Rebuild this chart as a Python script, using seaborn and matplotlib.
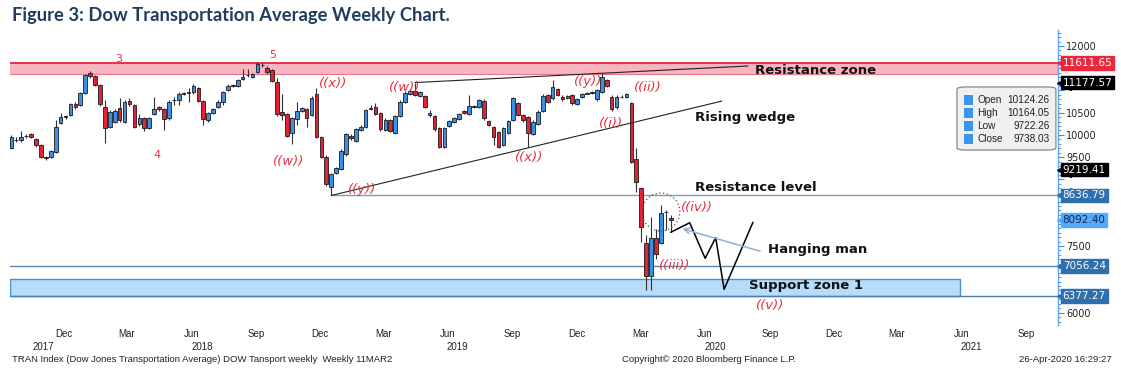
import numpy as np
import pandas as pd
import matplotlib
matplotlib.use("Agg")
import matplotlib.pyplot as plt
import matplotlib.dates as mdates
import matplotlib.transforms as mtransforms
from matplotlib.ticker import MultipleLocator
from matplotlib.patches import Ellipse, FancyBboxPatch, Rectangle
import seaborn as sns

# weekly bars (Friday dates), Sep 2017 - Apr 2020
week_dates = pd.date_range("2017-09-29", periods=135, freq="W-FRI")

opens = [9705, 9895, 9885, 9965, 10020, 9901, 9772, 9500, 9496, 9622,
         10274, 10420, 10447, 10695, 10672, 10949, 11399, 11325, 11122, 10621,
         10184, 10300, 10614, 10297, 10762, 10672, 10238, 10373, 10162, 10470,
         10621, 10582, 10373, 10790, 10785, 10925, 10950, 10958, 11048, 10762,
         10335, 10486, 10621, 10747, 11010, 11115, 11107, 11251, 11340, 11309,
         11422, 11580, 11512, 11460, 11197, 10508, 10463, 10049, 10357, 10537,
         10576, 10447, 10920, 9945, 9509, 8834, 9136, 9226, 9563, 9982,
         9869, 10110, 10184, 10590, 10634, 10486, 10110, 10335, 10049, 10425,
         10747, 10920, 10987, 10882, 10875, 10447, 10425, 10148, 9734, 10200,
         10297, 10351, 10544, 10470, 10640, 10634, 10769, 10312, 10184, 10060,
         9770, 10049, 10335, 10711, 10447, 10396, 10020, 10245, 10537, 10897,
         10823, 11026, 10859, 10823, 10897, 10695, 10859, 10930, 10955, 10801,
         10972, 11235, 10859, 10621, 10855, 10852, 10711, 9460, 8812, 7574,
         6825, 7673, 7574, 8270, 8130]
highs = [10000, 9960, 10080, 10010, 10050, 9930, 9790, 9530, 9670, 10335,
         10500, 10450, 10720, 10730, 10960, 11370, 11440, 11350, 11150, 10785,
         10560, 10580, 10830, 10780, 10837, 10700, 10480, 10400, 10410, 10850,
         10650, 10610, 10780, 10860, 10970, 10960, 11060, 11140, 11080, 10790,
         10520, 10610, 10780, 10990, 11140, 11150, 11260, 11482, 11482, 11400,
         11647, 11620, 11540, 11490, 11280, 10920, 10500, 10400, 10747, 10630,
         10600, 10870, 11048, 9980, 9540, 9150, 9280, 9680, 10050, 10010,
         10160, 10220, 10590, 10672, 10711, 10510, 10370, 10360, 10450, 10780,
         10994, 11030, 11178, 10990, 10900, 10560, 10450, 10170, 10170, 10330,
         10400, 10500, 10570, 10897, 10680, 10810, 10800, 10340, 10210, 10090,
         10170, 10340, 10860, 10740, 10470, 10420, 10330, 10550, 10910, 10920,
         11235, 11060, 10890, 10900, 10920, 10830, 10950, 10960, 10980, 11040,
         11386, 11260, 10890, 10890, 10890, 10950, 10740, 9700, 8830, 7748,
         8159, 7876, 8429, 8310, 8197]
lows = [9680, 9840, 9840, 9930, 9920, 9730, 9480, 9440, 9470, 9600,
        10240, 10350, 10420, 10590, 10640, 10930, 11290, 11090, 10650, 9811,
        10150, 10260, 10300, 10270, 10660, 10150, 10210, 10087, 10130, 10440,
        10540, 10110, 10340, 10670, 10670, 10900, 10750, 10930, 10740, 10222,
        10300, 10460, 10600, 10672, 10980, 11070, 11080, 11230, 11310, 11290,
        11400, 11530, 11380, 11190, 10430, 10335, 9950, 9795, 10222, 10510,
        10184, 10420, 9930, 9470, 8860, 8637, 9110, 9200, 9530, 9890,
        9840, 10080, 10150, 10560, 10440, 10090, 10080, 10060, 10020, 10400,
        10720, 10890, 10870, 10850, 10600, 10400, 10090, 9700, 9710, 10170,
        10270, 10330, 10460, 10440, 10600, 10610, 10340, 10190, 9772, 9700,
        9740, 10020, 10310, 10420, 10300, 9730, 9990, 10220, 10510, 10720,
        10790, 10870, 10770, 10800, 10680, 10670, 10830, 10910, 10920, 10770,
        10940, 11070, 10540, 10590, 10830, 10830, 9360, 8720, 7597, 6510,
        6510, 7201, 7550, 7860, 7808]
closes = [9959, 9880, 9950, 9975, 9952, 9772, 9509, 9490, 9644, 10184,
          10409, 10400, 10688, 10621, 10936, 11347, 11325, 11122, 10695, 10148,
          10522, 10540, 10335, 10747, 10688, 10184, 10387, 10162, 10380, 10582,
          10576, 10357, 10747, 10775, 10913, 10935, 10960, 11100, 10769, 10351,
          10486, 10576, 10747, 10958, 11107, 11100, 11235, 11309, 11350, 11370,
          11588, 11565, 11408, 11212, 10463, 10447, 9982, 10373, 10544, 10598,
          10373, 10837, 9959, 9509, 8895, 9120, 9248, 9644, 10013, 9923,
          10126, 10184, 10560, 10600, 10470, 10126, 10335, 10094, 10425, 10747,
          10936, 10994, 10897, 10958, 10634, 10500, 10126, 9734, 10148, 10306,
          10373, 10470, 10486, 10650, 10628, 10785, 10373, 10222, 9959, 9734,
          10148, 10312, 10823, 10447, 10335, 10036, 10297, 10522, 10875, 10747,
          11071, 10897, 10801, 10875, 10711, 10801, 10920, 10936, 10949, 11010,
          11296, 11100, 10576, 10859, 10862, 10920, 9397, 8947, 7934, 6825,
          7686, 7320, 8249, 8255, 8092.40]

# price tags on the right axis
tag_values = [11611.65, 11177.57, 9219.41, 8636.79, 8092.40, 7056.24, 6377.27]
tag_colors = ["#e8283c", "#000000", "#000000", "#2f6fae", "#55aaff", "#2f6fae", "#2f6fae"]
tag_text_colors = ["white", "white", "white", "white", "#0a2a50", "white", "white"]

# zones and levels
resistance_zone = (11370, 11611.65)
support_zone = (6377.27, 6760)
support_zone_end = "2021-06-09"

# wedge lines
upper_wedge_dates = [week_dates[82], pd.Timestamp("2020-08-12")]
upper_wedge_values = [11177.57, 11550]
lower_wedge_dates = [week_dates[65], pd.Timestamp("2020-07-06")]
lower_wedge_values = [8636.79, 10762]

# projected path after the last bar
proj_dates = pd.to_datetime(["2020-04-24", "2020-05-21", "2020-06-12",
                             "2020-06-27", "2020-07-09", "2020-08-19"])
proj_values = [7808, 8024, 7223, 7687, 6526, 8033]

# Elliott wave labels
wave_labels = ["((w))", "((x))", "((y))", "((w))", "((x))", "((y))",
               "((ii))", "((i))", "((iv))", "((iii))", "((v))"]
wave_dates = pd.to_datetime(["2018-10-29", "2018-12-31", "2019-02-10", "2019-04-12",
                             "2019-10-05", "2019-12-29", "2020-03-23", "2020-01-30",
                             "2020-06-01", "2020-04-30", "2020-09-12"])
wave_values = [9412, 11145, 8782, 11055, 9502, 11212, 11055, 10245, 8355, 7072, 6150]
count_labels = ["3", "5", "4"]
count_dates = pd.to_datetime(["2018-02-28", "2018-10-06", "2018-04-24"])
count_values = [11707, 11797, 9547]

month_ticks = pd.date_range("2017-12-01", "2021-09-01", freq="3MS") + pd.Timedelta(days=11)
month_names = [d.strftime("%b") for d in month_ticks]
year_labels = ["2017", "2018", "2019", "2020", "2021"]
year_dates = pd.to_datetime(["2017-11-13", "2018-06-27", "2019-06-26", "2020-06-27", "2021-06-26"])

y_ticks = list(range(6000, 12001, 500))
y_labels_shown = [12000, 10500, 10000, 9500, 7500, 6000]

legend_names = ["Open", "High", "Low", "Close"]
legend_values = ["10124.26", "10164.05", "9722.26", "9738.03"]

sns.set_style("white")
plt.rcParams["font.family"] = ["DejaVu Sans"]

fig = plt.figure(figsize=(11.21, 3.86), dpi=100)
ax = fig.add_axes([10 / 1121, 61 / 386, 1048 / 1121, 295 / 386])

x = mdates.date2num(week_dates)
o = np.array(opens); h = np.array(highs); l = np.array(lows); c = np.array(closes)
up = c >= o
body_colors = np.where(up, "#3d8fe6", "#e32234")

ax.vlines(x, l, h, color="#303030", lw=0.8, zorder=3)
ax.bar(x, c - o, bottom=o, width=5.2, color=body_colors, edgecolor="#1a1a1a",
       linewidth=0.6, zorder=4)

# resistance zone
ax.axhspan(*resistance_zone, facecolor="#f8b4bf", edgecolor="none", zorder=1)
ax.axhline(resistance_zone[1], color="#e0283c", lw=1.3, zorder=2)
ax.axhline(resistance_zone[0], color="#e67a88", lw=0.8, zorder=2)

# support zone
xmin = mdates.date2num(pd.Timestamp("2017-09-27"))
xmax = mdates.date2num(pd.Timestamp("2021-10-27"))
sz_end = mdates.date2num(pd.Timestamp(support_zone_end))
ax.add_patch(Rectangle((xmin, support_zone[0]), sz_end - xmin, support_zone[1] - support_zone[0],
                       facecolor="#b6dcfa", edgecolor="#4a8fd0", lw=1.0, zorder=1))
ax.axhline(6377.27, color="#4a7fb0", lw=1.0, zorder=2)
ax.axhline(7056.24, color="#5f88ad", lw=1.0, zorder=2)
ax.plot([mdates.date2num(week_dates[65]), xmax], [8636.79, 8636.79], color="#7d9cb8", lw=1.0, zorder=2)

# wedge lines
ax.plot(mdates.date2num(upper_wedge_dates), upper_wedge_values, color="#222222", lw=0.8, zorder=5)
ax.plot(mdates.date2num(lower_wedge_dates), lower_wedge_values, color="#222222", lw=0.8, zorder=5)

# projection path
sns.lineplot(x=mdates.date2num(proj_dates), y=proj_values, ax=ax, color="black", lw=1.1,
             sort=False, estimator=None, zorder=5)

# hanging man arrow
ax.annotate("", xy=(mdates.date2num(pd.Timestamp("2020-05-07")), 7905),
            xytext=(mdates.date2num(pd.Timestamp("2020-09-02")), 7365),
            arrowprops=dict(arrowstyle="->", color="#8fb0d8", lw=1.1), zorder=5)

# dotted circle
ax.add_patch(Ellipse((mdates.date2num(pd.Timestamp("2020-04-10")), 8265), width=54, height=855,
                     fill=False, ls=(0, (1, 2)), ec="#555555", lw=0.9, zorder=6))

# annotation texts
notes = [("Resistance zone", "2020-08-22", 11460), ("Rising wedge", "2020-05-28", 10380),
         ("Resistance level", "2020-05-28", 8805), ("Hanging man", "2020-09-09", 7432),
         ("Support zone 1", "2020-08-13", 6600)]
for txt, d, v in notes:
    ax.text(mdates.date2num(pd.Timestamp(d)), v, txt, fontsize=9.5, fontweight="bold",
            color="#111111", ha="left", va="center", zorder=7)

for txt, d, v in zip(wave_labels, wave_dates, wave_values):
    ax.text(mdates.date2num(d), v, txt, fontsize=9.5, style="italic", color="#e8313f",
            ha="center", va="center", zorder=7)
for txt, d, v in zip(count_labels, count_dates, count_values):
    ax.text(mdates.date2num(d), v, txt, fontsize=8, color="#e8313f",
            ha="center", va="center", zorder=7)

ax.set_xlim(xmin, xmax)
ax.set_ylim(5722.5, 12360)

for s in ["top", "left", "bottom"]:
    ax.spines[s].set_visible(False)
ax.spines["right"].set_color("#5aa6ee")
ax.spines["right"].set_linewidth(1.0)
ax.yaxis.tick_right()
ax.set_yticks(y_ticks)
ax.set_yticklabels([str(t) if t in y_labels_shown else "" for t in y_ticks])
ax.yaxis.set_minor_locator(MultipleLocator(100))
ax.tick_params(axis="y", which="major", direction="out", length=4, width=0.8, color="#3d8fe6",
               labelsize=7, labelcolor="#222222", pad=2, right=True)
ax.tick_params(axis="y", which="minor", direction="out", length=2, width=0.6, color="#3d8fe6", right=True)
ax.set_xticks(mdates.date2num(month_ticks))
ax.set_xticklabels(month_names, fontsize=7, family="Liberation Sans", color="#222222")
ax.tick_params(axis="x", length=0, pad=3)

ytr = mtransforms.blended_transform_factory(ax.transData, ax.transAxes)
for txt, d in zip(year_labels, year_dates):
    ax.text(mdates.date2num(d), -0.075, txt, transform=ytr, fontsize=7, family="Liberation Sans",
            color="#222222", ha="center", va="center")

# right side price tags
tr = mtransforms.blended_transform_factory(ax.transAxes, ax.transData)
for v, col, tcol in zip(tag_values, tag_colors, tag_text_colors):
    ax.plot([1.0057], [v], marker="<", ms=9.5, color=col, mec=col, transform=tr, clip_on=False, zorder=8)
    ax.text(1.0045, v, f"{v:.2f}", transform=tr, fontsize=7.5, color=tcol, ha="left", va="center",
            bbox=dict(boxstyle="square,pad=0.18", fc=col, ec=col), clip_on=False, zorder=9)

# OHLC legend box
ax.add_patch(FancyBboxPatch((0.9036, 0.593), 0.0944, 0.214, boxstyle="round,pad=0,rounding_size=0.008",
                            transform=ax.transAxes, facecolor="#f0f0f0", edgecolor="#888888",
                            lw=0.9, clip_on=False, zorder=8))
row_y = [0.763, 0.719, 0.675, 0.631]
for name, val, ry in zip(legend_names, legend_values, row_y):
    ax.add_patch(Rectangle((0.910, ry - 0.016), 0.0085, 0.032, transform=ax.transAxes,
                           facecolor="#3d93f0", edgecolor="none", clip_on=False, zorder=9))
    ax.text(0.923, ry, name, transform=ax.transAxes, fontsize=7.2, family="Liberation Sans",
            color="#222222", ha="left", va="center", zorder=9)
    ax.text(0.992, ry, val, transform=ax.transAxes, fontsize=7.2, family="Liberation Sans",
            color="#222222", ha="right", va="center", zorder=9)

fig.text(12 / 1121, 1 - 15 / 386, "Figure 3: Dow Transportation Average Weekly Chart.",
         fontsize=13.2, fontweight="bold", color="#1f3d5e", family="Lato", ha="left", va="center")
fig.text(12 / 1121, 1 - 360 / 386, "TRAN Index (Dow Jones Transportation Average) DOW Tansport weekly  Weekly 11MAR2",
         fontsize=6.8, family="Liberation Sans", color="#222222", ha="left", va="center")
fig.text(622 / 1121, 1 - 360 / 386, "Copyright\u00a9 2020 Bloomberg Finance L.P.",
         fontsize=6.8, family="Liberation Sans", color="#222222", ha="left", va="center")
fig.text(1112 / 1121, 1 - 360 / 386, "26-Apr-2020 16:29:27",
         fontsize=6.8, family="Liberation Sans", color="#222222", ha="right", va="center")

fig.savefig("out.png", dpi=100)
